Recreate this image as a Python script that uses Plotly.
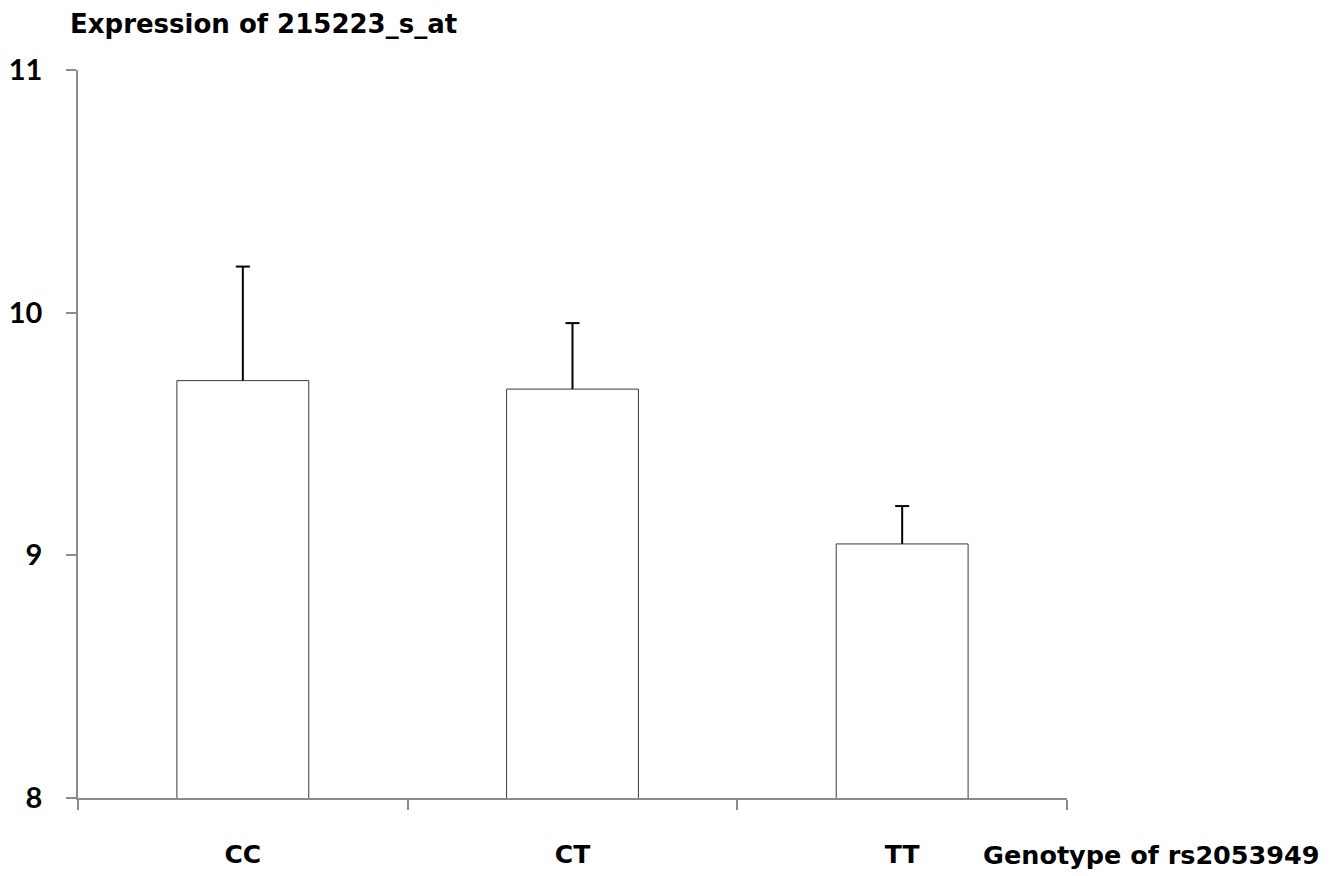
import plotly.graph_objects as go

categories = ["CC", "CT", "TT"]
means = [9.72, 9.685, 9.047]
errors_up = [0.47, 0.272, 0.156]
y_ticks = [8, 9, 10, 11]
y_title = "Expression of 215223_s_at"
x_title = "Genotype of rs2053949"

WIDE = "DejaVu Sans"
NARROW = "Lato"

tops = [m + e for m, e in zip(means, errors_up)]

fig = go.Figure()
fig.add_trace(go.Bar(
    x=categories,
    y=means,
    marker=dict(color="white", line=dict(color="#3a3a3a", width=1)),
    error_y=dict(type="data", symmetric=False, array=errors_up,
                 arrayminus=[0] * len(categories),
                 color="black", thickness=2, width=0),
    width=0.4,
))
# caps on top of the error bars only
fig.add_trace(go.Scatter(
    x=categories, y=tops, mode="markers",
    marker=dict(symbol="line-ew", size=10, color="black",
                line=dict(color="black", width=2)),
    hoverinfo="skip",
))

fig.update_layout(
    width=1342, height=876,
    margin=dict(l=70, r=283, t=62, b=86),
    plot_bgcolor="white", paper_bgcolor="white",
    showlegend=False,
    font=dict(family=WIDE, color="black"),
)
fig.update_xaxes(
    type="category",
    range=[-0.5, 2.5],
    automargin=False,
    showline=True, linecolor="#8a8a8a", linewidth=1.5,
    ticks="outside", ticklen=10, tickcolor="#8a8a8a", tickwidth=1.5,
    tickson="boundaries",
    ticklabelstandoff=33,
    tickfont=dict(family=WIDE, size=25, color="black", weight="bold"),
    showgrid=False, zeroline=False,
)
fig.update_yaxes(
    range=[8, 11],
    tickvals=y_ticks,
    automargin=False,
    showline=True, linecolor="#8a8a8a", linewidth=1.5,
    ticks="outside", ticklen=10, tickcolor="#8a8a8a", tickwidth=1.5,
    ticklabelstandoff=18,
    tickfont=dict(family=NARROW, size=29, color="black", weight="bold"),
    showgrid=False, zeroline=False,
)
fig.add_annotation(
    text=y_title, xref="paper", yref="paper", x=0, y=1.0,
    xanchor="left", yanchor="middle", xshift=-10, yshift=46, showarrow=False,
    font=dict(family=WIDE, size=26, color="black", weight="bold"),
)
fig.add_annotation(
    text=x_title, xref="paper", yref="paper", x=1.0, y=0,
    xanchor="left", yanchor="middle", xshift=-86, yshift=-57, showarrow=False,
    font=dict(family=WIDE, size=25.5, color="black", weight="bold"),
)

fig.write_html("out.html")
